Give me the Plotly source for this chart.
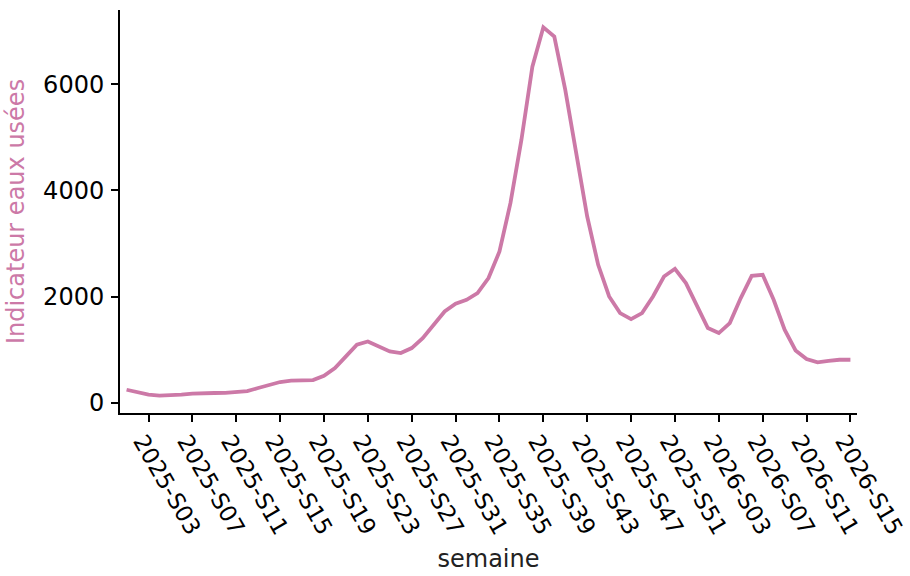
import plotly.graph_objects as go

# Weekly wastewater indicator, 2025-S01 to 2026-S15
weeks = [f"2025-S{w:02d}" for w in range(1, 53)] + [f"2026-S{w:02d}" for w in range(1, 16)]

indicator = [
    250, 200, 156, 140, 140, 156, 175, 188, 188, 190,
    200, 225, 282, 344, 395, 420, 420, 432, 513, 658,
    877, 1097, 1159, 1065, 970, 940, 1034, 1222, 1473, 1723,
    1868, 1943, 2069, 2351, 2851, 3761, 4952, 6331, 7072, 6896,
    5892, 4702, 3510, 2601, 2005, 1693, 1580, 1693, 2005, 2381,
    2526, 2257, 1817, 1411, 1317, 1505, 1975, 2394, 2413, 1943,
    1379, 989, 827, 764, 795, 814, 814,
]

tick_labels = weeks[2::4]
y_ticks = [0, 2000, 4000, 6000]

line_color = "#CC79A7"
font_family = "DejaVu Sans"

fig = go.Figure(
    go.Scatter(
        x=weeks,
        y=indicator,
        mode="lines",
        line=dict(color=line_color, width=3.8),
        hoverinfo="x+y",
    )
)

fig.update_layout(
    width=910,
    height=576,
    margin=dict(l=120, r=53, t=10, b=163),
    plot_bgcolor="white",
    paper_bgcolor="white",
    font=dict(family=font_family, size=24, color="black"),
    showlegend=False,
)

fig.update_xaxes(
    type="category",
    categoryorder="array",
    categoryarray=weeks,
    range=[-0.6, 66.6],
    automargin=False,
    tickmode="array",
    tickvals=tick_labels,
    ticktext=tick_labels,
    tickangle=60,
    tickfont=dict(size=23),
    ticklabelshift=-6,
    ticklabelstandoff=-3,
    ticks="outside",
    ticklen=7,
    tickwidth=2,
    tickcolor="black",
    showline=True,
    linecolor="black",
    linewidth=2,
    showgrid=False,
    zeroline=False,
    title=dict(text="semaine", standoff=12, font=dict(size=24, color="#222222")),
)

fig.update_yaxes(
    range=[-188, 7397],
    automargin=False,
    tickmode="array",
    tickvals=y_ticks,
    ticktext=[str(v) for v in y_ticks],
    ticks="outside",
    ticklen=7,
    tickwidth=2,
    tickcolor="black",
    ticklabelstandoff=2,
    showline=True,
    linecolor="black",
    linewidth=2,
    showgrid=False,
    zeroline=False,
    title=dict(text="Indicateur eaux usées", standoff=12, font=dict(size=24, color=line_color)),
)

fig.write_html("out.html")
